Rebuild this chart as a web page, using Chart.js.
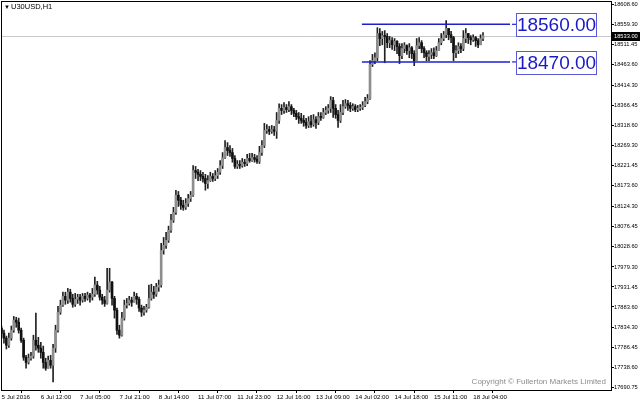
<!DOCTYPE html>
<html>
<head>
<meta charset="utf-8">
<title>U30USD,H1</title>
<script src="https://cdn.jsdelivr.net/npm/chart.js@4.4.1/dist/chart.umd.min.js"></script>
<style>
  html, body { margin: 0; padding: 0; background: #fff; }
  #wrap { width: 640px; height: 404px; }
</style>
</head>
<body>
<div id="wrap"><canvas id="chart" width="640" height="404"></canvas></div>
<script>
const SYMBOL_LABEL = "U30USD,H1";
const COPYRIGHT = "Copyright \u00A9 Fullerton Markets Limited";

// hourly bars, 5 Jul 2016 -> 18 Jul 2016
const opens = [17833,
  17821, 17809, 17792, 17809, 17828, 17852, 17847, 17828, 17804, 17763,
  17751, 17761, 17766, 17804, 17792, 17785, 17775, 17751, 17737, 17756,
  17744, 17785, 17828, 17871, 17888, 17909, 17900, 17919, 17904, 17890,
  17902, 17907, 17900, 17909, 17904, 17912, 17907, 17914, 17936, 17924,
  17907, 17900, 17892, 17924, 17943, 17904, 17876, 17828, 17816, 17857,
  17888, 17892, 17900, 17895, 17909, 17902, 17881, 17871, 17876, 17883,
  17904, 17919, 17914, 17931, 17936, 18019, 18031, 18043, 18067, 18091,
  18110, 18151, 18139, 18127, 18122, 18131, 18143, 18151, 18210, 18206,
  18201, 18196, 18191, 18179, 18186, 18196, 18191, 18198, 18206, 18222,
  18241, 18265, 18258, 18253, 18239, 18220, 18225, 18222, 18230, 18227,
  18239, 18234, 18241, 18237, 18232, 18253, 18270, 18306, 18308, 18304,
  18308, 18304, 18330, 18359, 18354, 18361, 18356, 18363, 18354, 18347,
  18339, 18335, 18330, 18325, 18318, 18327, 18320, 18332, 18325, 18339,
  18337, 18349, 18354, 18359, 18378, 18359, 18344, 18330, 18349, 18363,
  18370, 18366, 18359, 18363, 18356, 18359, 18361, 18366, 18375, 18382,
  18464, 18473, 18480, 18538, 18526, 18533, 18531, 18516, 18521, 18511,
  18519, 18507, 18485, 18502, 18509, 18497, 18504, 18490, 18473, 18509,
  18516, 18502, 18492, 18483, 18488, 18492, 18485, 18497, 18516, 18526,
  18535, 18550, 18535, 18528, 18492, 18497, 18507, 18502, 18526, 18538,
  18528, 18523, 18528, 18521, 18511, 18526];

const highs = [
  17838, 17828, 17814, 17821, 17838, 17861, 17859, 17857, 17833, 17809,
  17768, 17771, 17775, 17816, 17869, 17811, 17799, 17790, 17761, 17766,
  17768, 17794, 17840, 17885, 17900, 17919, 17919, 17928, 17926, 17914,
  17916, 17914, 17914, 17916, 17916, 17919, 17916, 17928, 17955, 17945,
  17933, 17914, 17909, 17976, 17976, 17945, 17909, 17881, 17840, 17871,
  17900, 17904, 17909, 17907, 17919, 17916, 17907, 17888, 17885, 17890,
  17936, 17938, 17933, 17940, 17948, 18036, 18050, 18062, 18077, 18105,
  18122, 18163, 18160, 18146, 18139, 18143, 18153, 18160, 18222, 18220,
  18213, 18210, 18206, 18201, 18198, 18206, 18203, 18210, 18215, 18234,
  18253, 18282, 18277, 18270, 18263, 18246, 18234, 18234, 18239, 18237,
  18249, 18251, 18251, 18249, 18246, 18268, 18282, 18323, 18320, 18316,
  18318, 18316, 18349, 18370, 18368, 18373, 18368, 18375, 18368, 18359,
  18354, 18349, 18347, 18342, 18335, 18339, 18342, 18344, 18339, 18349,
  18349, 18359, 18363, 18368, 18387, 18385, 18368, 18354, 18368, 18378,
  18380, 18378, 18373, 18370, 18368, 18366, 18368, 18375, 18385, 18392,
  18473, 18488, 18492, 18552, 18550, 18543, 18545, 18538, 18531, 18528,
  18526, 18521, 18514, 18514, 18516, 18511, 18514, 18507, 18497, 18526,
  18528, 18521, 18507, 18497, 18497, 18502, 18504, 18507, 18526, 18538,
  18543, 18569, 18547, 18543, 18531, 18509, 18516, 18514, 18545, 18550,
  18538, 18533, 18535, 18531, 18526, 18535, 18540];

const lows = [
  17811, 17797, 17783, 17787, 17804, 17823, 17835, 17821, 17799, 17756,
  17737, 17747, 17756, 17761, 17780, 17775, 17761, 17737, 17732, 17742,
  17737, 17704, 17775, 17823, 17866, 17885, 17890, 17892, 17895, 17883,
  17885, 17892, 17888, 17895, 17897, 17900, 17895, 17900, 17909, 17914,
  17900, 17890, 17885, 17890, 17919, 17888, 17857, 17818, 17809, 17814,
  17852, 17881, 17888, 17885, 17895, 17890, 17873, 17861, 17864, 17871,
  17881, 17900, 17904, 17909, 17921, 17931, 18010, 18024, 18038, 18062,
  18086, 18105, 18124, 18117, 18115, 18117, 18124, 18136, 18148, 18191,
  18186, 18186, 18182, 18163, 18167, 18184, 18184, 18186, 18191, 18201,
  18215, 18239, 18246, 18244, 18230, 18215, 18215, 18215, 18218, 18220,
  18222, 18230, 18232, 18230, 18227, 18227, 18246, 18265, 18299, 18296,
  18299, 18294, 18287, 18323, 18344, 18347, 18349, 18351, 18344, 18339,
  18332, 18323, 18323, 18316, 18311, 18313, 18313, 18316, 18311, 18320,
  18330, 18335, 18344, 18347, 18349, 18337, 18335, 18313, 18325, 18344,
  18359, 18354, 18351, 18354, 18351, 18351, 18354, 18356, 18363, 18370,
  18380, 18459, 18466, 18473, 18509, 18511, 18468, 18504, 18504, 18500,
  18497, 18490, 18466, 18478, 18492, 18488, 18480, 18478, 18461, 18473,
  18502, 18492, 18480, 18473, 18473, 18478, 18478, 18483, 18497, 18511,
  18521, 18528, 18523, 18516, 18473, 18480, 18490, 18492, 18497, 18516,
  18514, 18511, 18519, 18507, 18504, 18511, 18521];

const closes = [
  17821, 17809, 17792, 17809, 17828, 17852, 17847, 17828, 17804, 17763,
  17751, 17761, 17766, 17804, 17792, 17785, 17775, 17751, 17737, 17756,
  17744, 17785, 17828, 17871, 17888, 17909, 17900, 17919, 17904, 17890,
  17902, 17907, 17900, 17909, 17904, 17912, 17907, 17914, 17936, 17924,
  17907, 17900, 17892, 17924, 17943, 17904, 17876, 17828, 17816, 17857,
  17888, 17892, 17900, 17895, 17909, 17902, 17881, 17871, 17876, 17883,
  17904, 17919, 17914, 17931, 17936, 18019, 18031, 18043, 18067, 18091,
  18110, 18151, 18139, 18127, 18122, 18131, 18143, 18151, 18210, 18206,
  18201, 18196, 18191, 18179, 18186, 18196, 18191, 18198, 18206, 18222,
  18241, 18265, 18258, 18253, 18239, 18220, 18225, 18222, 18230, 18227,
  18239, 18234, 18241, 18237, 18232, 18253, 18270, 18306, 18308, 18304,
  18308, 18304, 18330, 18359, 18354, 18361, 18356, 18363, 18354, 18347,
  18339, 18335, 18330, 18325, 18318, 18327, 18320, 18332, 18325, 18339,
  18337, 18349, 18354, 18359, 18378, 18359, 18344, 18330, 18349, 18363,
  18370, 18366, 18359, 18363, 18356, 18359, 18361, 18366, 18375, 18382,
  18464, 18473, 18480, 18538, 18526, 18533, 18531, 18516, 18521, 18511,
  18519, 18507, 18485, 18502, 18509, 18497, 18504, 18490, 18473, 18509,
  18516, 18502, 18492, 18483, 18488, 18492, 18485, 18497, 18516, 18526,
  18535, 18550, 18535, 18528, 18492, 18497, 18507, 18502, 18526, 18538,
  18528, 18523, 18528, 18521, 18511, 18526, 18533];

const xTickBars = [0, 16, 32, 48, 64, 80, 96, 112, 128, 144, 160, 176, 192];
const xTickLabels = [
  "5 Jul 2016", "6 Jul 12:00", "7 Jul 05:00", "7 Jul 21:00", "8 Jul 14:00",
  "11 Jul 07:00", "11 Jul 23:00", "12 Jul 16:00", "13 Jul 09:00",
  "14 Jul 02:00", "14 Jul 18:00", "15 Jul 11:00", "18 Jul 04:00",
];

const yTickValues = [
  18608.60, 18559.30, 18511.45, 18463.60, 18414.30, 18366.45, 18318.60,
  18269.30, 18221.45, 18173.60, 18124.30, 18076.45, 18028.60, 17979.30,
  17931.45, 17883.60, 17834.30, 17786.45, 17738.60, 17690.75,
];

// horizontal range levels drawn on the chart
const levelValues = [18560, 18470];
const levelStartBar = 146.7;
const levelEndBar = 207;

const X_MIN = -0.2;
const X_MAX = 248.5;
const Y_MIN = 17682.5;
const Y_MAX = 18615.8;

const FONT = "'Liberation Sans', 'DejaVu Sans', Arial, sans-serif";
const BULL = "#8e8e8e";
const BEAR = "#111111";
const WICK = "#222222";
const LEVEL_BLUE = "#1f1fd2";

Chart.defaults.font.family = FONT;

const barIndex = closes.map((_, i) => i);
const wickData = barIndex.map((i) => ({
  x: i,
  y: [Math.min(lows[i], opens[i], closes[i]), Math.max(highs[i], opens[i], closes[i])],
}));
const bodyData = barIndex.map((i) => ({ x: i, y: [opens[i], closes[i]] }));
const bodyColors = barIndex.map((i) => (closes[i] >= opens[i] ? BULL : BEAR));

const chartDecor = {
  id: "chartDecor",
  beforeDatasetsDraw(chart) {
    const { ctx, chartArea, scales } = chart;
    const lastClose = closes[closes.length - 1];
    const y = Math.round(scales.y.getPixelForValue(lastClose)) + 0.5;
    ctx.save();
    ctx.strokeStyle = "#c8c8c8";
    ctx.lineWidth = 1;
    ctx.beginPath();
    ctx.moveTo(chartArea.left, y);
    ctx.lineTo(chartArea.right, y);
    ctx.stroke();
    ctx.restore();
  },
  afterDatasetsDraw(chart) {
    const { ctx, scales } = chart;
    const xEnd = scales.x.getPixelForValue(levelEndBar);
    ctx.save();
    levelValues.forEach((level) => {
      const y = scales.y.getPixelForValue(level);
      const left = Math.round(xEnd) + 6.5;
      const top = Math.round(y - 11) + 0.5;
      ctx.strokeStyle = LEVEL_BLUE;
      ctx.lineWidth = 1.2;
      ctx.beginPath();
      ctx.moveTo(xEnd + 2, y);
      ctx.lineTo(left, y);
      ctx.stroke();
      ctx.strokeStyle = "#5a5ad8";
      ctx.lineWidth = 1;
      ctx.strokeRect(left, top, 80, 23);
      ctx.fillStyle = "#1a1ac8";
      ctx.font = `19px ${FONT}`;
      ctx.textAlign = "center";
      ctx.textBaseline = "middle";
      ctx.fillText(level.toFixed(2), left + 40, top + 12);
    });
    ctx.restore();
  },
  afterDraw(chart) {
    const { ctx, chartArea, scales } = chart;
    ctx.save();
    ctx.strokeStyle = "#000";
    ctx.lineWidth = 1;
    ctx.strokeRect(chartArea.left + 0.5, chartArea.top + 0.5,
      chartArea.right - chartArea.left - 1, chartArea.bottom - chartArea.top - 1);

    // current price tag
    const lastClose = closes[closes.length - 1];
    const y = Math.round(scales.y.getPixelForValue(lastClose));
    ctx.fillStyle = "#000";
    ctx.fillRect(chartArea.right, y - 4, 640 - chartArea.right, 9);
    ctx.fillStyle = "#fff";
    ctx.font = `5.7px ${FONT}`;
    ctx.textAlign = "left";
    ctx.textBaseline = "middle";
    ctx.fillText(lastClose.toFixed(2), chartArea.right + 2, y + 0.5);

    // symbol caption
    ctx.fillStyle = "#000";
    ctx.font = `6px ${FONT}`;
    ctx.fillText("\u25BC", chartArea.left + 3, chartArea.top + 6);
    ctx.font = `7.5px ${FONT}`;
    ctx.fillText(SYMBOL_LABEL, chartArea.left + 10, chartArea.top + 6);

    // copyright
    ctx.fillStyle = "#8c8c8c";
    ctx.font = `8px ${FONT}`;
    ctx.textAlign = "right";
    ctx.fillText(COPYRIGHT, chartArea.right - 6, chartArea.bottom - 9);
    ctx.restore();
  },
};

new Chart(document.getElementById("chart"), {
  type: "bar",
  data: {
    datasets: [
      ...levelValues.map((level) => ({
        type: "line",
        data: [{ x: levelStartBar, y: level }, { x: levelEndBar, y: level }],
        borderColor: LEVEL_BLUE,
        borderWidth: 1.5,
        pointRadius: 0,
        fill: false,
      })),
      {
        type: "bar",
        data: bodyData,
        backgroundColor: bodyColors,
        grouped: false,
        barPercentage: 1,
        categoryPercentage: 1,
        maxBarThickness: 2,
        minBarLength: 1,
      },
      {
        type: "bar",
        data: wickData,
        backgroundColor: WICK,
        grouped: false,
        barPercentage: 1,
        categoryPercentage: 1,
        maxBarThickness: 1,
      },
    ],
  },
  options: {
    responsive: false,
    animation: false,
    devicePixelRatio: 1,
    layout: { padding: { left: 1, top: 1, right: 0, bottom: 0 } },
    plugins: {
      legend: { display: false },
      tooltip: { enabled: false },
    },
    scales: {
      x: {
        type: "linear",
        min: X_MIN,
        max: X_MAX,
        offset: false,
        afterBuildTicks(scale) {
          scale.ticks = xTickBars.map((v) => ({ value: v }));
        },
        afterFit(scale) {
          scale.height = 13;
          scale.paddingLeft = 0;
          scale.paddingRight = 0;
        },
        ticks: {
          autoSkip: false,
          maxRotation: 0,
          align: "start",
          padding: 1,
          color: "#000",
          font: { size: 6.2 },
          callback(value) {
            const k = xTickBars.indexOf(value);
            return k >= 0 ? xTickLabels[k] : "";
          },
        },
        grid: { drawOnChartArea: false, tickLength: 2, color: "#000" },
        border: { display: false },
      },
      y: {
        type: "linear",
        position: "right",
        min: Y_MIN,
        max: Y_MAX,
        afterBuildTicks(scale) {
          scale.ticks = yTickValues.map((v) => ({ value: v }));
        },
        afterFit(scale) {
          scale.width = 28;
          scale.paddingTop = 0;
          scale.paddingBottom = 0;
        },
        ticks: {
          autoSkip: false,
          padding: 0,
          color: "#000",
          font: { size: 5.7 },
          callback(value) {
            return Number(value).toFixed(2);
          },
        },
        grid: { drawOnChartArea: false, tickLength: 2, color: "#000" },
        border: { display: false },
      },
    },
  },
  plugins: [chartDecor],
});
</script>
</body>
</html>
